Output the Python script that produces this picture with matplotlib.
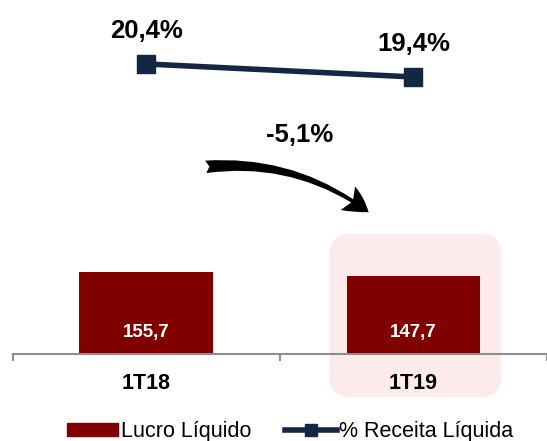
import matplotlib
matplotlib.use("Agg")
import matplotlib.pyplot as plt
from matplotlib.patches import FancyBboxPatch, FancyArrowPatch

plt.rcParams['font.family'] = ['Liberation Sans', 'DejaVu Sans']

categories = ['1T18', '1T19']
lucro = [155.7, 147.7]
lucro_labels = ['155,7', '147,7']
margem = [20.4, 19.4]
margem_labels = ['20,4%', '19,4%']
variacao = '-5,1%'

bar_color = '#800000'
line_color = '#132743'

fig = plt.figure(figsize=(5.47, 4.41), dpi=100)
ax = fig.add_axes([0, 0, 1, 1])
x = list(range(len(categories)))

ax.set_xlim(-0.5475, 1.4732)
ax.set_ylim(-162.9, 667.5)

# highlight behind the last quarter
hl = FancyBboxPatch((0.6864, -80), 0.6424, 306.9,
                    boxstyle='round,pad=0,rounding_size=0.075',
                    mutation_aspect=510,
                    facecolor='#fdeaea', edgecolor='none', zorder=0)
ax.add_patch(hl)

ax.bar(x, lucro, width=0.5, color=bar_color, zorder=2)
for xi, lab in zip(x, lucro_labels):
    ax.text(xi, 41, lab, ha='center', va='center', color='white',
            fontsize=13.5, fontweight='bold', zorder=3)

# axis line with ticks
ax.spines[['top', 'right', 'left']].set_visible(False)
ax.spines['bottom'].set_position(('data', 0))
ax.spines['bottom'].set_bounds(-0.5, 1.6)
ax.spines['bottom'].set_color('#8c8c8c')
ax.spines['bottom'].set_linewidth(1.5)
ax.set_xticks([-0.5, 0.5, 1.5], minor=True)
ax.tick_params(axis='x', which='minor', length=5, width=1.5, color='#8c8c8c')
ax.set_xticks(x)
ax.set_xticklabels(categories, fontsize=15.5, fontweight='bold')
ax.tick_params(axis='x', which='major', length=0, pad=13)
ax.set_yticks([])

ax2 = ax.twinx()
ax2.set_ylim(-8.6, 25.32)
ax2.axis('off')
ax2.plot(x, margem, color=line_color, lw=4, marker='s', ms=13, zorder=4)
for xi, yi, lab in zip(x, margem, margem_labels):
    ax2.annotate(lab, (xi, yi), xytext=(0, 24), textcoords='offset points',
                 ha='center', va='center', fontsize=18.5, fontweight='bold')

ax.text(0.548, 0.694, variacao, transform=ax.transAxes, ha='center',
        va='center', fontsize=18.5, fontweight='bold')
arrow = FancyArrowPatch((0.371, 0.621), (0.678, 0.515),
                        transform=ax.transAxes,
                        connectionstyle='arc3,rad=-0.2',
                        arrowstyle='fancy,head_length=1.0,head_width=1.1,tail_width=0.5',
                        mutation_scale=18, color='black', lw=0)
ax.add_patch(arrow)

h1 = plt.Rectangle((0, 0), 1, 1, color=bar_color)
h2, = ax.plot([], [], color=line_color, lw=4, marker='s', ms=9)
fig.legend([h1, h2], ['Lucro Líquido', '% Receita Líquida'],
           loc='center', bbox_to_anchor=(290 / 547, 1 - 432 / 441),
           ncol=2, frameon=False, fontsize=15.5, handlelength=2.4,
           handletextpad=0.1, columnspacing=1.6, handleheight=0.55)

fig.savefig('out.png', dpi=100)
